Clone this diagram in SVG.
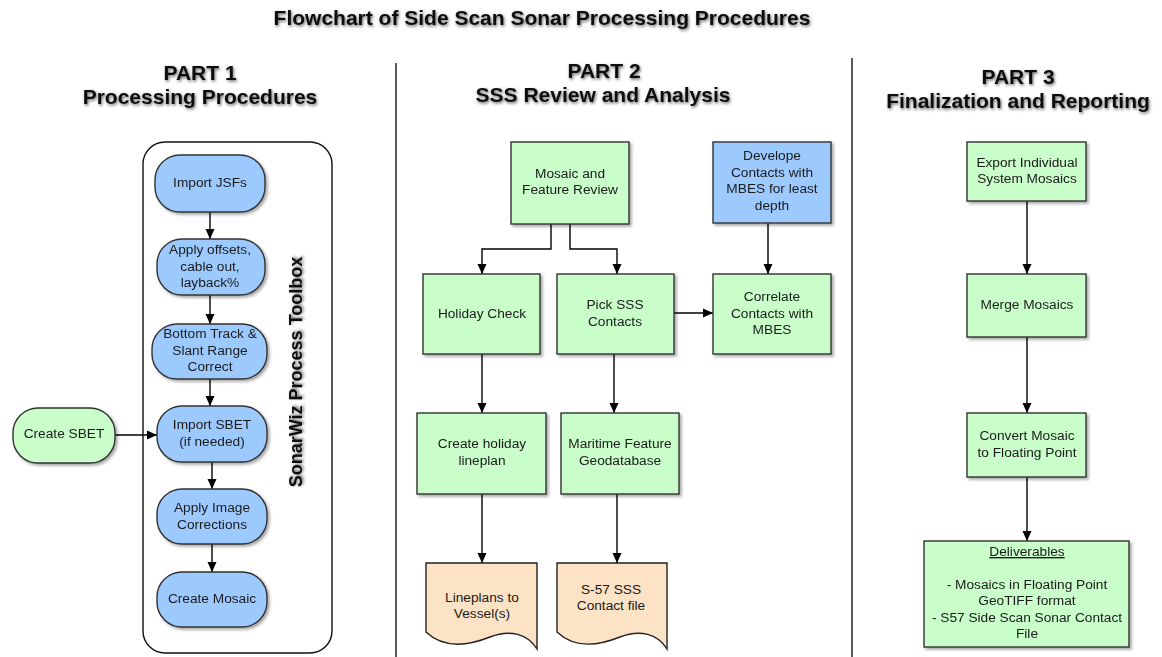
<svg xmlns="http://www.w3.org/2000/svg" width="1162" height="657" viewBox="0 0 1162 657">
<defs>
<filter id="sh" x="-10%" y="-10%" width="130%" height="130%"><feDropShadow dx="2" dy="2" stdDeviation="1.5" flood-color="#000" flood-opacity="0.35"/></filter>
<filter id="tsh" x="-5%" y="-30%" width="110%" height="160%"><feDropShadow dx="1" dy="1.5" stdDeviation="1.4" flood-color="#000" flood-opacity="0.6"/></filter>
<marker id="ah" viewBox="0 0 10 10" refX="10" refY="5" markerWidth="10" markerHeight="10" markerUnits="userSpaceOnUse" orient="auto"><path d="M0,0.5 L10,5 L0,9.5 z" fill="#000"/></marker>
</defs>
<style>
.h{font-family:"Liberation Sans",Arial,sans-serif;font-weight:bold;font-size:21px;fill:#111;text-anchor:middle}
.t{font-family:"Liberation Sans",Arial,sans-serif;font-size:13.7px;fill:#1a1a1a;text-anchor:middle}
.blue{fill:#9ccaff;stroke:#333;stroke-width:1.4}
.green{fill:#c9fdc9;stroke:#333;stroke-width:1.4}
.doc{fill:#fde3c6;stroke:#222;stroke-width:1.4}
.c{fill:none;stroke:#000;stroke-width:1.4;marker-end:url(#ah)}
.div{stroke:#111;stroke-width:1.4}
</style>
<rect width="1162" height="657" fill="#fff"/>
<g id="headings" filter="url(#tsh)">
<text class="h" x="542" y="25">Flowchart of Side Scan Sonar Processing Procedures</text>
<text class="h" x="200" y="80">PART 1</text>
<text class="h" x="200" y="104">Processing Procedures</text>
<text class="h" x="604" y="78">PART 2</text>
<text class="h" x="603" y="102">SSS Review and Analysis</text>
<text class="h" x="1018" y="84">PART 3</text>
<text class="h" x="1018" y="108">Finalization and Reporting</text>
</g>
<g id="dividers">
<line class="div" x1="396" y1="63" x2="396" y2="657"/>
<line class="div" x1="852" y1="58" x2="852" y2="657"/>
</g>
<g id="toolbox">
<rect x="143" y="142" width="189" height="511" rx="22" fill="none" stroke="#111" stroke-width="1.4"/>
<text class="h" transform="translate(302,372) rotate(-90)" style="font-size:18px" filter="url(#tsh)">SonarWiz Process Toolbox</text>
</g>
<g id="connectors">
<path class="c" d="M210,212 V239"/>
<path class="c" d="M210,295 V324"/>
<path class="c" d="M210,379 V406"/>
<path class="c" d="M212,462 V489"/>
<path class="c" d="M212,544 V572"/>
<path class="c" d="M115,435 H157"/>
<path class="c" d="M551,224 V249 H482 V274"/>
<path class="c" d="M570,224 V249 H617 V274"/>
<path class="c" d="M674,313 H713"/>
<path class="c" d="M768,223 V274"/>
<path class="c" d="M482,354 V413"/>
<path class="c" d="M614,354 V413"/>
<path class="c" d="M482,494 V563"/>
<path class="c" d="M617,494 V563"/>
<path class="c" d="M1027,201 V274"/>
<path class="c" d="M1027,337 V413"/>
<path class="c" d="M1027,477 V541"/>
</g>
<g id="import-jsfs" filter="url(#sh)"><rect class="blue" x="155" y="155" width="110" height="57" rx="25"/><text class="t" x="210" y="187">Import JSFs</text></g>
<g id="apply-offsets" filter="url(#sh)"><rect class="blue" x="157" y="239" width="108" height="56" rx="25"/><text class="t" x="210" y="254">Apply offsets,</text><text class="t" x="210" y="271">cable out,</text><text class="t" x="210" y="287">layback%</text></g>
<g id="bottom-track" filter="url(#sh)"><rect class="blue" x="152" y="324" width="115" height="55" rx="25"/><text class="t" x="210" y="338">Bottom Track &amp;</text><text class="t" x="210" y="355">Slant Range</text><text class="t" x="210" y="371">Correct</text></g>
<g id="import-sbet" filter="url(#sh)"><rect class="blue" x="157" y="406" width="110" height="56" rx="25"/><text class="t" x="212" y="429">Import SBET</text><text class="t" x="212" y="446">(if needed)</text></g>
<g id="apply-image" filter="url(#sh)"><rect class="blue" x="157" y="489" width="110" height="55" rx="25"/><text class="t" x="212" y="512">Apply Image</text><text class="t" x="212" y="529">Corrections</text></g>
<g id="create-mosaic" filter="url(#sh)"><rect class="blue" x="157" y="572" width="110" height="55" rx="25"/><text class="t" x="212" y="603">Create Mosaic</text></g>
<g id="create-sbet" filter="url(#sh)"><rect class="green" x="13" y="408" width="102" height="55" rx="25"/><text class="t" x="64" y="438">Create SBET</text></g>
<g id="mosaic-review" filter="url(#sh)"><rect class="green" x="511" y="142" width="118" height="82"/><text class="t" x="570" y="178">Mosaic and</text><text class="t" x="570" y="194">Feature Review</text></g>
<g id="develope" filter="url(#sh)"><rect class="blue" x="713" y="142" width="118" height="81"/><text class="t" x="772" y="160">Develope</text><text class="t" x="772" y="177">Contacts with</text><text class="t" x="772" y="193">MBES for least</text><text class="t" x="772" y="210">depth</text></g>
<g id="holiday-check" filter="url(#sh)"><rect class="green" x="423" y="274" width="117" height="80"/><text class="t" x="482" y="318">Holiday Check</text></g>
<g id="pick-sss" filter="url(#sh)"><rect class="green" x="557" y="274" width="117" height="80"/><text class="t" x="615" y="309">Pick SSS</text><text class="t" x="615" y="326">Contacts</text></g>
<g id="correlate" filter="url(#sh)"><rect class="green" x="713" y="274" width="118" height="80"/><text class="t" x="772" y="301">Correlate</text><text class="t" x="772" y="318">Contacts with</text><text class="t" x="772" y="334">MBES</text></g>
<g id="holiday-lineplan" filter="url(#sh)"><rect class="green" x="417" y="413" width="129" height="81"/><text class="t" x="482" y="448">Create holiday</text><text class="t" x="482" y="465">lineplan</text></g>
<g id="maritime" filter="url(#sh)"><rect class="green" x="561" y="413" width="118" height="81"/><text class="t" x="620" y="448">Maritime Feature</text><text class="t" x="620" y="465">Geodatabase</text></g>
<g id="lineplans-doc"><path class="doc" d="M426,563 H537 V649 C528,634 510,629 490,637 C470,645 445,650 426,632 Z"/><text class="t" x="482" y="602">Lineplans to</text><text class="t" x="482" y="618">Vessel(s)</text></g>
<g id="s57-doc"><path class="doc" d="M557,563 H667 V649 C658,634 640,629 620,637 C600,645 576,650 557,632 Z"/><text class="t" x="611" y="594">S-57 SSS</text><text class="t" x="611" y="610">Contact file</text></g>
<g id="export" filter="url(#sh)"><rect class="green" x="967" y="142" width="119" height="59"/><text class="t" x="1027" y="167">Export Individual</text><text class="t" x="1027" y="183">System Mosaics</text></g>
<g id="merge" filter="url(#sh)"><rect class="green" x="967" y="274" width="119" height="63"/><text class="t" x="1027" y="309">Merge Mosaics</text></g>
<g id="convert" filter="url(#sh)"><rect class="green" x="967" y="413" width="119" height="64"/><text class="t" x="1027" y="440">Convert Mosaic</text><text class="t" x="1027" y="457">to Floating Point</text></g>
<g id="deliverables" filter="url(#sh)"><rect class="green" x="924" y="541" width="205" height="106"/><text class="t" x="1027" y="556" text-decoration="underline">Deliverables</text><text class="t" x="1027" y="589">- Mosaics in Floating Point</text><text class="t" x="1027" y="605">GeoTIFF format</text><text class="t" x="1027" y="622">- S57 Side Scan Sonar Contact</text><text class="t" x="1027" y="638">File</text></g>
</svg>
